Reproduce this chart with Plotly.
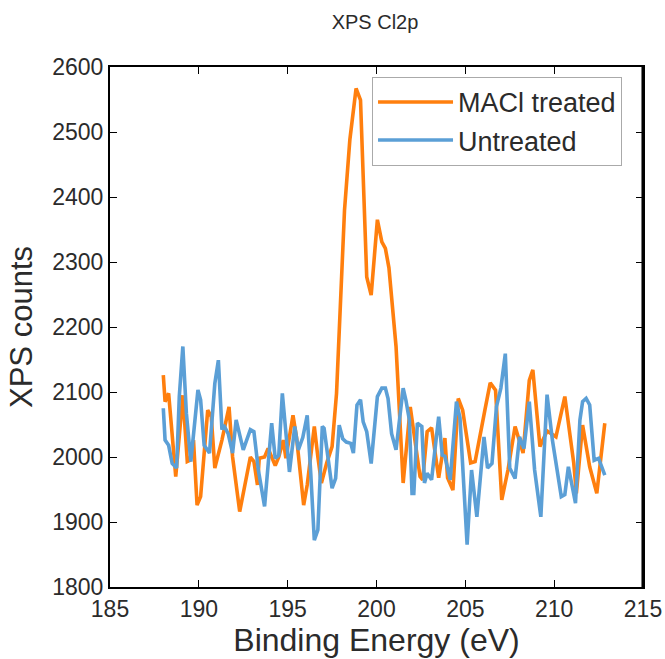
import plotly.graph_objects as go

# MACl treated
treated_e = [188.0, 188.1, 188.3, 188.5, 188.7, 189.1, 189.35, 189.5, 189.7, 189.9,
             190.1, 190.5, 190.7, 190.9, 191.3, 191.7, 191.9, 192.3, 192.9, 193.1,
             193.3, 193.4, 193.7, 193.9, 194.1, 194.3, 194.5, 194.75, 194.9, 195.3,
             195.5, 195.9, 196.1, 196.5, 196.7, 196.9, 197.2, 197.5, 197.75, 198.0,
             198.2, 198.5, 198.6, 198.85, 199.1, 199.3, 199.45, 199.7, 200.05, 200.3,
             200.5, 200.7, 201.1, 201.5, 201.9, 202.45, 202.6, 202.85, 203.1, 203.5,
             203.85, 204.0, 204.3, 204.6, 204.85, 205.3, 205.55, 206.1, 206.4, 206.7,
             207.05, 207.4, 207.8, 208.25, 208.6, 208.8, 209.2, 209.6, 210.1, 210.6,
             211.1, 211.25, 211.6, 212.0, 212.4, 212.85]
treated_counts = [2126, 2085, 2098, 2040, 1970, 2095, 1993, 1995, 2026, 1926,
                  1939, 2072, 2062, 1983, 2026, 2077, 2000, 1916, 2000, 1993,
                  1957, 1998, 2000, 2013, 2000, 1987, 2000, 2026, 1998, 2064,
                  2030, 1926, 1957, 2047, 2000, 1960, 1991, 2016, 2098, 2252,
                  2380, 2488, 2508, 2567, 2549, 2406, 2277, 2249, 2365, 2331,
                  2321, 2291, 2170, 1960, 2077, 1970, 1965, 2039, 2045, 1968,
                  2029, 1968, 1949, 2090, 2072, 1991, 1993, 2072, 2114, 2103,
                  1934, 1980, 2047, 2006, 2118, 2134, 2016, 2040, 2031, 2093,
                  1991, 1944, 2049, 1985, 1944, 2052]

# Untreated
untreated_e = [188.0, 188.1, 188.3, 188.5, 188.75, 188.9, 189.1, 189.3, 189.55, 189.7,
               189.95, 190.1, 190.3, 190.6, 190.9, 191.1, 191.3, 191.4, 191.65, 191.9,
               192.1, 192.5, 192.9, 193.1, 193.35, 193.7, 194.1, 194.3, 194.5, 194.7,
               195.1, 195.4, 195.6, 195.85, 196.1, 196.3, 196.5, 196.7, 196.95, 197.05,
               197.3, 197.5, 197.7, 197.9, 198.1, 198.3, 198.55, 198.7, 198.9, 199.1,
               199.25, 199.45, 199.7, 199.85, 200.05, 200.3, 200.5, 200.65, 200.85, 201.1,
               201.3, 201.5, 201.65, 201.85, 202.0, 202.1, 202.3, 202.55, 202.7, 202.85,
               203.1, 203.5, 203.7, 203.85, 204.15, 204.5, 204.7, 205.1, 205.35, 205.65,
               206.05, 206.25, 206.5, 206.75, 207.0, 207.25, 207.5, 207.8, 208.05, 208.3,
               208.6, 208.9, 209.25, 209.6, 209.9, 210.4, 210.6, 210.8, 211.2, 211.45,
               211.6, 211.8, 212.0, 212.25, 212.5, 212.85]
untreated_counts = [2075, 2026, 2018, 1990, 1983, 2093, 2170, 2067, 1993, 2031,
                    2103, 2088, 2018, 2006, 2113, 2149, 2042, 2049, 2036, 2006,
                    2057, 2011, 2042, 2039, 1980, 1924, 2052, 1998, 2003, 2098,
                    1977, 2047, 2011, 2030, 2064, 1975, 1872, 1888, 2047, 2044,
                    1990, 1952, 1967, 2049, 2028, 2023, 2021, 2006, 2080, 2088,
                    2054, 2039, 1990, 2034, 2093, 2106, 2106, 2090, 2036, 2011,
                    2057, 2106, 2088, 2057, 1944, 1944, 2052, 2047, 1960, 1975,
                    1965, 2062, 2003, 2001, 1965, 2085, 2060, 1865, 1980, 1908,
                    2031, 1983, 1990, 2077, 2106, 2159, 1983, 1967, 2031, 2013,
                    2085, 1980, 1908, 2096, 2026, 1939, 1942, 1985, 1929, 2057,
                    2085, 2090, 2080, 1995, 1998, 1972]

x_ticks = [185, 190, 195, 200, 205, 210, 215]
y_ticks = [1800, 1900, 2000, 2100, 2200, 2300, 2400, 2500, 2600]

FONT = "Liberation Sans, Arial, sans-serif"
TXT = "#2b2b2b"

fig = go.Figure()
fig.add_trace(go.Scatter(x=treated_e, y=treated_counts, mode="lines",
                         name="MACl treated",
                         line=dict(color="#ff7f0e", width=3.6)))
fig.add_trace(go.Scatter(x=untreated_e, y=untreated_counts, mode="lines",
                         name="Untreated",
                         line=dict(color="#5b9fd6", width=3.6)))

axis_common = dict(showline=True, linecolor="black", linewidth=2, mirror="allticks",
                   ticks="inside", ticklen=7, tickwidth=1.2, tickcolor="black",
                   showgrid=False, zeroline=False, automargin=False,
                   tickfont=dict(family=FONT, size=23, color=TXT))

fig.update_xaxes(range=[185, 215], tickvals=x_ticks,
                 title=dict(text="Binding Energy (eV)", standoff=4,
                            font=dict(family=FONT, size=32, color=TXT)),
                 **axis_common)
fig.update_yaxes(range=[1800, 2600], tickvals=y_ticks,
                 title=dict(text="XPS counts", standoff=10,
                            font=dict(family=FONT, size=31, color=TXT)),
                 **axis_common)

# full frame around the plotting area (right edge drawn explicitly)
fig.add_shape(type="line", xref="paper", yref="paper", x0=0.999, x1=0.999, y0=0, y1=1,
              line=dict(color="black", width=2), layer="above")

fig.update_layout(
    width=665, height=659,
    margin=dict(l=110, r=22, t=67, b=72, autoexpand=False),
    paper_bgcolor="white", plot_bgcolor="white",
    title=dict(text="XPS Cl2p", x=375 / 665, xanchor="center",
               y=1 - 22 / 659, yanchor="middle",
               font=dict(family=FONT, size=20, color=TXT)),
    legend=dict(x=0.4916, y=0.981, xanchor="left", yanchor="top",
                bgcolor="white", bordercolor="#aaaaaa", borderwidth=1,
                font=dict(family=FONT, size=27, color=TXT),
                itemwidth=75),
    showlegend=True,
)

fig.write_html(
    "out.html",
    config={"displayModeBar": False},
    post_script=(
        "document.documentElement.style.margin='0';"
        "document.body.style.margin='0';"
        "document.body.style.overflow='hidden';"
        "document.documentElement.style.overflow='hidden';"
    ),
)
